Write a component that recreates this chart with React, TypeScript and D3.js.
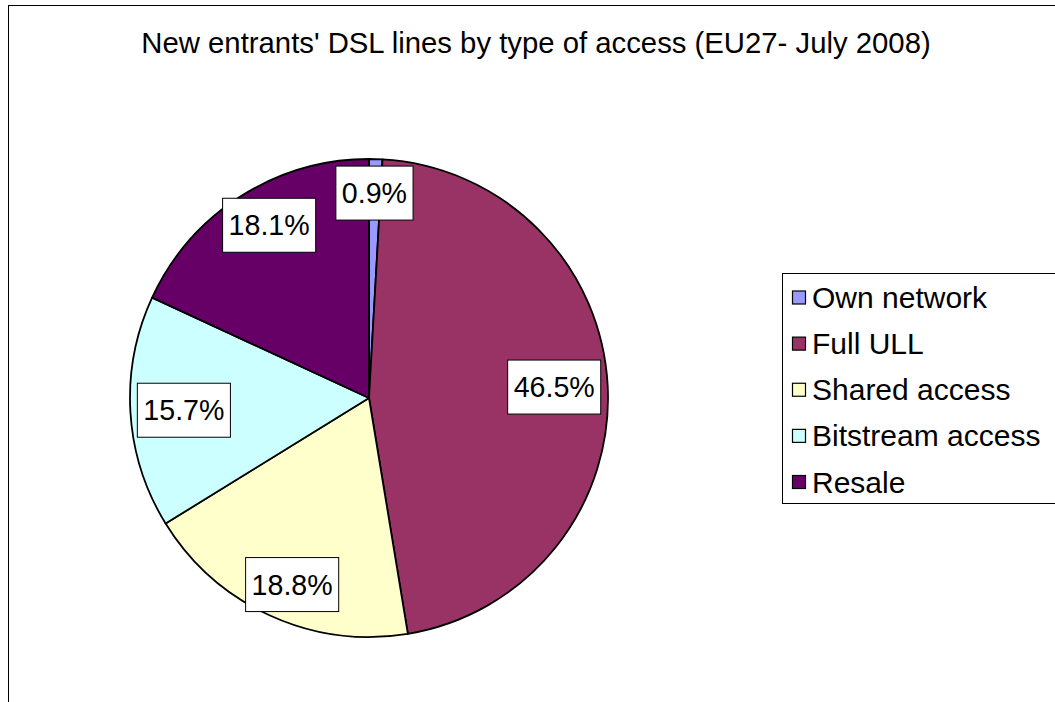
import React, { useEffect, useRef } from "react";
import * as d3 from "d3";

const title = "New entrants' DSL lines by type of access (EU27- July 2008)";
const categories = ["Own network", "Full ULL", "Shared access", "Bitstream access", "Resale"];
const shares = [0.9, 46.5, 18.8, 15.7, 18.1];
const colors = ["#9999FF", "#993366", "#FFFFCC", "#CCFFFF", "#660066"];

const W = 1055;
const H = 702;
const FONT = "'Liberation Sans', Arial, sans-serif";

export default function App() {
  const ref = useRef<SVGSVGElement | null>(null);

  useEffect(() => {
    const svg = d3.select(ref.current);
    svg.selectAll("*").remove();

    // chart border
    svg.append("rect")
      .attr("x", 8.5).attr("y", 5.5)
      .attr("width", W + 20).attr("height", H + 20)
      .attr("fill", "#fff").attr("stroke", "#000").attr("stroke-width", 1);

    svg.append("text")
      .attr("x", 536).attr("y", 53)
      .attr("text-anchor", "middle")
      .attr("font-family", FONT).attr("font-size", 29.3)
      .attr("fill", "#000")
      .text(title);

    const cx = 369, cy = 398, r = 239;
    const data = categories.map((c, i) => ({ name: c, value: shares[i], color: colors[i] }));
    const pie = d3.pie<any>().sort(null).value((d: any) => d.value);
    const arcs = pie(data);
    const arc = d3.arc<any>().innerRadius(0).outerRadius(r);

    const g = svg.append("g").attr("transform", `translate(${cx},${cy})`);
    g.selectAll("path.slice").data(arcs).enter().append("path")
      .attr("class", "slice")
      .attr("d", arc as any)
      .attr("fill", (d: any) => d.data.color)
      .attr("stroke", "#000").attr("stroke-width", 1.8)
      .attr("stroke-linejoin", "round");

    const fmt = (v: number) => v.toFixed(1) + "%";
    const bh = 54, gap = 7;

    arcs.forEach((a: any) => {
      const lg = g.append("g");
      const rect = lg.append("rect").attr("fill", "#fff").attr("stroke", "#000").attr("stroke-width", 1);
      const t = lg.append("text")
        .attr("text-anchor", "middle")
        .attr("y", 10)
        .attr("font-family", FONT).attr("font-size", 28.6)
        .attr("fill", "#000")
        .text(fmt(a.data.value));
      const tw = (t.node() as SVGTextElement).getComputedTextLength();
      const bw = tw + 12;
      rect.attr("x", -bw / 2).attr("y", -bh / 2).attr("width", bw).attr("height", bh);
      const mid = (a.startAngle + a.endAngle) / 2;
      const rx = r - bw / 2 - gap;
      const ry = r - bh / 2 - gap;
      const lx = rx * Math.sin(mid);
      const ly = -ry * Math.cos(mid);
      lg.attr("transform", `translate(${lx},${ly})`);
    });

    // legend
    const lgX = 782.5, lgY = 273.5, lgH = 230;
    svg.append("rect")
      .attr("x", lgX).attr("y", lgY).attr("width", 400).attr("height", lgH)
      .attr("fill", "#fff").attr("stroke", "#000").attr("stroke-width", 1);
    const rowY = d3.scalePoint<string>().domain(categories).range([297.5, 482]);
    categories.forEach((c, i) => {
      const y = rowY(c) as number;
      svg.append("rect")
        .attr("x", 792.5).attr("y", y - 6.5).attr("width", 13).attr("height", 13)
        .attr("fill", colors[i]).attr("stroke", "#000").attr("stroke-width", 1.2);
      svg.append("text")
        .attr("x", 812).attr("y", y + 10.5)
        .attr("font-family", FONT).attr("font-size", 30)
        .attr("fill", "#000")
        .text(c);
    });
  }, []);

  return (
    <svg
      ref={ref}
      width={W}
      height={H}
      style={{ position: "absolute", left: 0, top: 0, background: "#fff" }}
    />
  );
}
